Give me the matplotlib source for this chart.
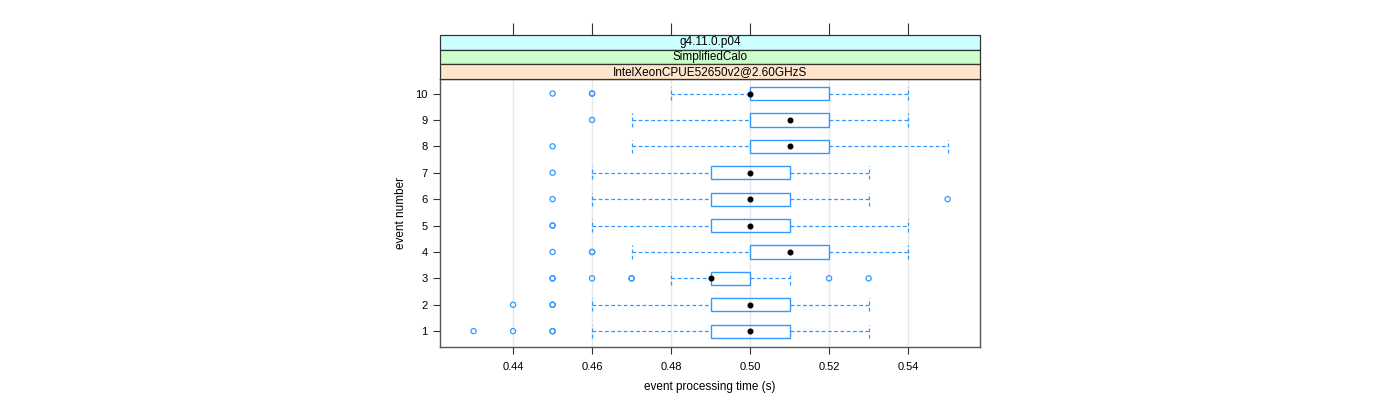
import matplotlib
matplotlib.use("Agg")
import matplotlib.pyplot as plt
from matplotlib.patches import Rectangle
from matplotlib.transforms import blended_transform_factory

plt.rcParams['font.family'] = ['Liberation Sans', 'DejaVu Sans']

# event number rows, 1..10
events = [1, 2, 3, 4, 5, 6, 7, 8, 9, 10]
lower_whisker = [0.46, 0.46, 0.48, 0.47, 0.46, 0.46, 0.46, 0.47, 0.47, 0.48]
q1 = [0.49, 0.49, 0.49, 0.50, 0.49, 0.49, 0.49, 0.50, 0.50, 0.50]
median = [0.50, 0.50, 0.49, 0.51, 0.50, 0.50, 0.50, 0.51, 0.51, 0.50]
q3 = [0.51, 0.51, 0.50, 0.52, 0.51, 0.51, 0.51, 0.52, 0.52, 0.52]
upper_whisker = [0.53, 0.53, 0.51, 0.54, 0.54, 0.53, 0.53, 0.55, 0.54, 0.54]
# outliers (repeated values drawn on top of each other)
outliers = [
    [0.43, 0.44, 0.45, 0.45],
    [0.44, 0.45, 0.45],
    [0.45, 0.45, 0.46, 0.47, 0.47, 0.52, 0.53],
    [0.45, 0.46, 0.46],
    [0.45, 0.45],
    [0.45, 0.55],
    [0.45],
    [0.45],
    [0.46],
    [0.45, 0.46, 0.46],
]
strips = ["g4.11.0.p04", "SimplifiedCalo", "IntelXeonCPUE52650v2@2.60GHzS"]
strip_cols = ["#ccffff", "#ccffcc", "#ffe5cc"]
xticks = [0.44, 0.46, 0.48, 0.50, 0.52, 0.54]

blue = "#3399ff"
W, H = 1400, 400
fig = plt.figure(figsize=(14, 4), dpi=100)
ax = fig.add_axes([440 / W, (H - 347) / H, 540 / W, 268 / H])
sx = fig.add_axes([440 / W, (H - 79) / H, 540 / W, 44 / H])

xlim = (0.4215, 0.5582)
ax.set_xlim(*xlim)
ax.set_ylim(0.4, 10.55)

for xt in xticks:
    ax.axvline(xt, color="#e8e8e8", lw=1, zorder=0)

bh = 0.5
dash = (0, (3, 2))
for i, ev in enumerate(events):
    ax.add_patch(Rectangle((q1[i], ev - bh / 2), q3[i] - q1[i], bh,
                           fill=False, ec=blue, lw=1, zorder=3))
    ax.plot([lower_whisker[i], q1[i]], [ev, ev], color=blue, lw=0.9, ls=dash, zorder=2)
    ax.plot([q3[i], upper_whisker[i]], [ev, ev], color=blue, lw=0.9, ls=dash, zorder=2)
    for w in (lower_whisker[i], upper_whisker[i]):
        ax.plot([w, w], [ev - bh / 2, ev + bh / 2], color=blue, lw=0.9, ls=dash, zorder=2)
    ax.scatter([median[i]], [ev], s=11, color="black", zorder=4)
    ax.scatter(outliers[i], [ev] * len(outliers[i]), s=14, facecolors="none",
               edgecolors=blue, linewidths=0.9, zorder=4)

ax.set_yticks(events)
ax.set_yticklabels([str(e) for e in events])
ax.set_xticks(xticks)
ax.set_xticklabels(["%.2f" % v for v in xticks])
ax.tick_params(axis="both", labelsize=8, length=5, width=0.8, color="#333333")
ax.tick_params(axis="x", pad=6)
ax.tick_params(axis="y", pad=4)
for s in ax.spines.values():
    s.set_color("#555555")
    s.set_linewidth(1)
ax.set_xlabel("event processing time (s)", fontsize=8.5, labelpad=6)
ax.set_ylabel("event number", fontsize=8.5, labelpad=6)

# strips above the panel
sx.set_xlim(*xlim)
sx.set_ylim(0, 3)
tr = blended_transform_factory(sx.transAxes, sx.transData)
for k, (txt, c) in enumerate(zip(strips, strip_cols)):
    y0 = 2 - k
    sx.add_patch(Rectangle((xlim[0], y0), xlim[1] - xlim[0], 1,
                           fc=c, ec="#333333", lw=0.9, clip_on=False))
    sx.text(0.5, y0 + 0.5, txt, transform=tr, ha="center", va="center", fontsize=8.5)
sx.set_yticks([])
sx.set_xticks(xticks)
sx.tick_params(axis="x", bottom=False, top=True, labelbottom=False,
               labeltop=False, length=9, width=0.8, color="#333333")
for s in sx.spines.values():
    s.set_visible(False)

fig.savefig("out.png", dpi=100)
